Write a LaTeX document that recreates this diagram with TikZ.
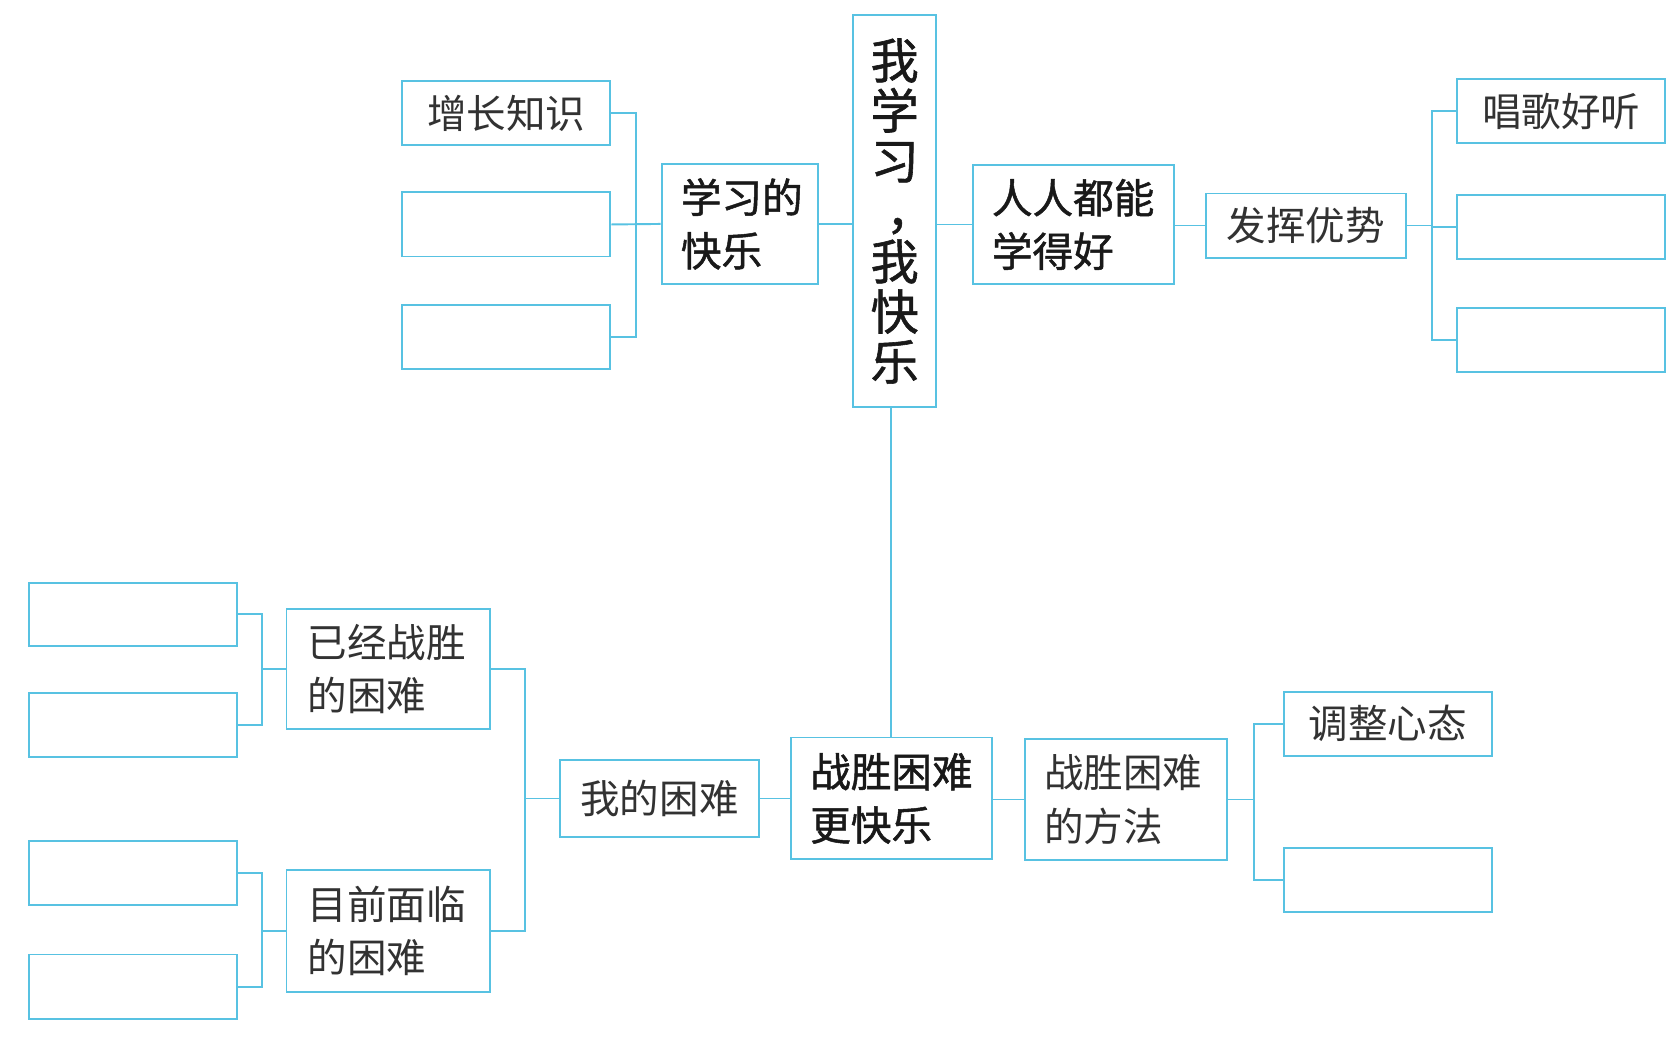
\documentclass[tikz,border=0pt]{standalone}
\usepackage{fontspec}
\setmainfont{Noto Sans CJK SC}
\newfontfamily\songti{Noto Sans CJK SC}
\newfontfamily\heiti{Noto Sans CJK SC}[FakeBold=1.2]
\definecolor{cy}{RGB}{88,194,226}
\definecolor{txtsong}{RGB}{50,50,50}
\definecolor{txthei}{RGB}{25,25,25}
\begin{document}
\begin{tikzpicture}[x=1pt,y=-1pt,
  bx/.style={draw=cy, line width=1.8pt, inner sep=0pt, fill=white},
  song/.style={bx, font=\songti\fontsize{37}{50}\selectfont, text=txtsong},
  hei/.style={bx, font=\heiti\fontsize{38}{50}\selectfont, text=txthei},
  lnk/.style={draw=cy, line width=1.8pt}]
\useasboundingbox[fill=white] (0,0) rectangle (1568,985);
% central
\node[hei, font=\heiti\fontsize{45}{47}\selectfont, align=center, minimum width=78, minimum height=367] (c) at (837,197.5)
  {我\\学\\习\\\makebox[1em][l]{\kern0.32em ，}\\我\\快\\乐};
% upper left
\node[hei, align=left, text width=110, minimum width=146, minimum height=113] (kl) at (692,209.5) {学习的\\快乐};
\node[song, minimum width=195, minimum height=60] (k1) at (473.5,106) {增长知识};
\node[song, minimum width=195, minimum height=60] (k2) at (473.5,210) {};
\node[song, minimum width=195, minimum height=60] (k3) at (473.5,315) {};
\coordinate (jk) at (595,210);
\draw[lnk] (k1.east) -- (k1.east -| jk) -- (k3.east -| jk) -- (k3.east);
\draw[lnk] (k2.east) -- (kl.west);
\draw[lnk] (kl.east) -- (kl.east -| c.west);
% upper right
\node[hei, align=left, text width=152, minimum width=188, minimum height=112] (rr) at (1004,210) {人人都能\\学得好};
\node[song, minimum width=187, minimum height=60] (fh) at (1221.5,211) {发挥优势};
\node[song, minimum width=195, minimum height=60] (r1) at (1460.5,104) {唱歌好听};
\node[song, minimum width=195, minimum height=60] (r2) at (1460.5,212) {};
\node[song, minimum width=195, minimum height=60] (r3) at (1460.5,318) {};
\coordinate (jr) at (1340,211);
\draw[lnk] (c.east |- rr.west) -- (rr.west);
\draw[lnk] (rr.east |- fh.west) -- (fh.west);
\draw[lnk] (r1.west) -- (r1.west -| jr) -- (r3.west -| jr) -- (r3.west);
\draw[lnk] (fh.east) -- (fh.east -| jr);
\draw[lnk] (r2.west) -- (r2.west -| jr);
% bottom centre
\node[hei, align=left, text width=152, minimum width=188, minimum height=114] (zs) at (834,747) {战胜困难\\更快乐};
\draw[lnk] (zs.north) -- (zs.north |- c.south);
\node[song, minimum width=186, minimum height=72] (wd) at (617,747) {我的困难};
\draw[lnk] (wd.east) -- (zs.west);
\node[song, align=left, text width=150, minimum width=190, minimum height=112] (yj) at (363,626) {已经战胜\\的困难};
\node[song, align=left, text width=150, minimum width=190, minimum height=114] (mq) at (363,871) {目前面临\\的困难};
\coordinate (jw) at (491,747);
\draw[lnk] (yj.east) -- (yj.east -| jw) -- (mq.east -| jw) -- (mq.east);
\draw[lnk] (wd.west) -- (jw);
\node[song, minimum width=195, minimum height=59] (l1) at (124.5,574.5) {};
\node[song, minimum width=195, minimum height=60] (l2) at (124.5,678) {};
\node[song, minimum width=195, minimum height=60] (l3) at (124.5,817) {};
\node[song, minimum width=195, minimum height=60] (l4) at (124.5,923) {};
\coordinate (ja) at (245,626);
\coordinate (jb) at (245,871);
\draw[lnk] (l1.east) -- (l1.east -| ja) -- (l2.east -| ja) -- (l2.east);
\draw[lnk] (yj.west) -- (yj.west -| ja);
\draw[lnk] (l3.east) -- (l3.east -| jb) -- (l4.east -| jb) -- (l4.east);
\draw[lnk] (mq.west) -- (mq.west -| jb);
% bottom right
\node[song, align=left, text width=153, minimum width=189, minimum height=114] (ff) at (1053.5,748) {战胜困难\\的方法};
\draw[lnk] (zs.east |- ff.west) -- (ff.west);
\node[song, minimum width=195, minimum height=60] (t1) at (1298.5,677) {调整心态};
\node[song, minimum width=195, minimum height=60] (t2) at (1298.5,823) {};
\coordinate (jt) at (1173,748);
\draw[lnk] (t1.west) -- (t1.west -| jt) -- (t2.west -| jt) -- (t2.west);
\draw[lnk] (ff.east) -- (ff.east -| jt);
\end{tikzpicture}
\end{document}
